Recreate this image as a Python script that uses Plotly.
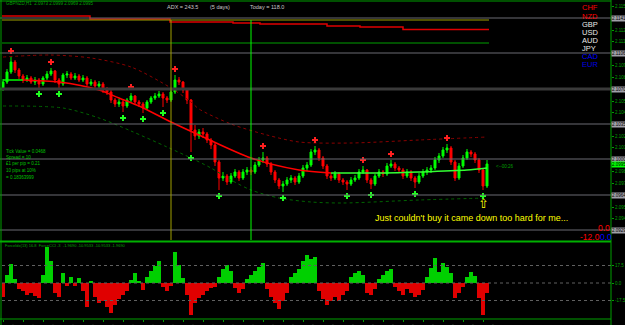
import plotly.graph_objects as go

# ---------------- data ----------------
bar_idx = list(range(122))
opens = [
    2.1071, 2.1077, 2.1087, 2.1097, 2.1089, 2.1083, 2.1079, 2.1081, 2.1077, 2.1079,
    2.1075, 2.1081, 2.1085, 2.1088, 2.1079, 2.1075, 2.1084, 2.1085, 2.1081, 2.1083,
    2.1079, 2.1081, 2.1075, 2.1077, 2.1073, 2.1075, 2.1069, 2.1067, 2.1059, 2.1055,
    2.1057, 2.1053, 2.1059, 2.1063, 2.1057, 2.1055, 2.1051, 2.1057, 2.1061, 2.1063,
    2.1065, 2.1061, 2.1059, 2.1067, 2.1079, 2.1077, 2.1069, 2.1059, 2.1029, 2.1023,
    2.1027, 2.1025, 2.1019, 2.1014, 2.0997, 2.0981, 2.0983, 2.0977, 2.0983, 2.0987,
    2.0981, 2.0987, 2.0989, 2.0987, 2.0994, 2.0999, 2.1001, 2.0995, 2.0987, 2.0979,
    2.0973, 2.0975, 2.0979, 2.0981, 2.0977, 2.0983, 2.0991, 2.0994, 2.1007, 2.1009,
    2.1001, 2.0993, 2.0983, 2.0981, 2.0985, 2.0979, 2.0977, 2.0975, 2.0979, 2.0981,
    2.0987, 2.0989, 2.0979, 2.0975, 2.0983, 2.0987, 2.0985, 2.0993, 2.0995, 2.0991,
    2.0989, 2.0983, 2.0987, 2.0981, 2.0977, 2.0983, 2.0987, 2.0989, 2.0991, 2.0999,
    2.1003, 2.1009, 2.1011, 2.0997, 2.0981, 2.0993, 2.1001, 2.1007, 2.1005, 2.0999,
    2.0989, 2.0973]
highs = [
    2.1080, 2.1090, 2.1102, 2.1099, 2.1091, 2.1085, 2.1084, 2.1083, 2.1082, 2.1081,
    2.1083, 2.1088, 2.1091, 2.1089, 2.1081, 2.1086, 2.1088, 2.1087, 2.1086, 2.1085,
    2.1084, 2.1083, 2.1080, 2.1079, 2.1078, 2.1077, 2.1072, 2.1069, 2.1061, 2.1060,
    2.1059, 2.1061, 2.1066, 2.1064, 2.1059, 2.1057, 2.1059, 2.1063, 2.1066, 2.1068,
    2.1067, 2.1063, 2.1070, 2.1084, 2.1082, 2.1078, 2.1070, 2.1060, 2.1034, 2.1030,
    2.1031, 2.1027, 2.1021, 2.1016, 2.0999, 2.0987, 2.0985, 2.0986, 2.0990, 2.0989,
    2.0990, 2.0992, 2.0992, 2.0997, 2.1002, 2.1007, 2.1003, 2.0997, 2.0989, 2.0981,
    2.0978, 2.0982, 2.0984, 2.0983, 2.0986, 2.0994, 2.0997, 2.1010, 2.1013, 2.1011,
    2.1003, 2.0995, 2.0986, 2.0988, 2.0987, 2.0981, 2.0979, 2.0982, 2.0984, 2.0990,
    2.0993, 2.0990, 2.0981, 2.0985, 2.0990, 2.0989, 2.0996, 2.0999, 2.0997, 2.0993,
    2.0991, 2.0990, 2.0989, 2.0983, 2.0986, 2.0990, 2.0992, 2.0994, 2.1002, 2.1006,
    2.1012, 2.1015, 2.1013, 2.0999, 2.0996, 2.1004, 2.1010, 2.1009, 2.1007, 2.1001,
    2.0991, 2.0999]
lows = [
    2.1068, 2.1075, 2.1085, 2.1086, 2.1080, 2.1076, 2.1077, 2.1075, 2.1074, 2.1071,
    2.1073, 2.1079, 2.1083, 2.1076, 2.1071, 2.1073, 2.1081, 2.1079, 2.1079, 2.1077,
    2.1077, 2.1073, 2.1073, 2.1070, 2.1071, 2.1066, 2.1064, 2.1056, 2.1052, 2.1052,
    2.1047, 2.1051, 2.1057, 2.1055, 2.1052, 2.1046, 2.1049, 2.1055, 2.1059, 2.1061,
    2.1052, 2.1056, 2.1057, 2.1065, 2.1074, 2.1066, 2.1055, 2.1007, 2.1019, 2.1020,
    2.1021, 2.1016, 2.1010, 2.0993, 2.0969, 2.0978, 2.0974, 2.0975, 2.0981, 2.0978,
    2.0979, 2.0984, 2.0984, 2.0985, 2.0992, 2.0996, 2.0992, 2.0984, 2.0976, 2.0970,
    2.0967, 2.0973, 2.0976, 2.0974, 2.0975, 2.0981, 2.0988, 2.0992, 2.1004, 2.0998,
    2.0990, 2.0980, 2.0978, 2.0979, 2.0976, 2.0974, 2.0969, 2.0973, 2.0977, 2.0979,
    2.0985, 2.0976, 2.0970, 2.0973, 2.0981, 2.0982, 2.0983, 2.0991, 2.0988, 2.0986,
    2.0980, 2.0981, 2.0978, 2.0971, 2.0975, 2.0981, 2.0984, 2.0986, 2.0989, 2.0996,
    2.1001, 2.1006, 2.0994, 2.0978, 2.0979, 2.0991, 2.0999, 2.1002, 2.0996, 2.0986,
    2.0969, 2.0971]
closes = [
    2.1077, 2.1087, 2.1097, 2.1089, 2.1083, 2.1079, 2.1081, 2.1077, 2.1079, 2.1075,
    2.1081, 2.1085, 2.1088, 2.1079, 2.1075, 2.1084, 2.1085, 2.1081, 2.1083, 2.1079,
    2.1081, 2.1075, 2.1077, 2.1073, 2.1075, 2.1069, 2.1067, 2.1059, 2.1055, 2.1057,
    2.1053, 2.1059, 2.1063, 2.1057, 2.1055, 2.1051, 2.1057, 2.1061, 2.1063, 2.1065,
    2.1061, 2.1059, 2.1067, 2.1079, 2.1077, 2.1069, 2.1059, 2.1029, 2.1023, 2.1027,
    2.1025, 2.1019, 2.1014, 2.0997, 2.0981, 2.0983, 2.0977, 2.0983, 2.0987, 2.0981,
    2.0987, 2.0989, 2.0987, 2.0994, 2.0999, 2.1001, 2.0995, 2.0987, 2.0979, 2.0973,
    2.0975, 2.0979, 2.0981, 2.0977, 2.0983, 2.0991, 2.0994, 2.1007, 2.1009, 2.1001,
    2.0993, 2.0983, 2.0981, 2.0985, 2.0979, 2.0977, 2.0975, 2.0979, 2.0981, 2.0987,
    2.0989, 2.0979, 2.0975, 2.0983, 2.0987, 2.0985, 2.0993, 2.0995, 2.0991, 2.0989,
    2.0983, 2.0987, 2.0981, 2.0977, 2.0983, 2.0987, 2.0989, 2.0991, 2.0999, 2.1003,
    2.1009, 2.1011, 2.0997, 2.0981, 2.0993, 2.1001, 2.1007, 2.1005, 2.0999, 2.0989,
    2.0973, 2.0995]

# force-index style histogram (lower window)
force_hist = [
    -14, 8, 19, 4, -6, -8, -12, -10, -13, -15,
    8, 36, 22, -10, -14, 10, -3, 6, -3, 5,
    -8, -24, 2, -14, -20, -18, -24, -30, -22, -16,
    -12, -8, 3, 10, 2, -7, 6, 12, 17, 22,
    -4, -8, -3, 31, 18, 5, -12, -32, -20, -15,
    -12, -8, -5, -4, 6, 14, 18, 12, -5, -10,
    -6, 4, 8, 12, 16, 20, -6, -14, -20, -26,
    -18, -10, 6, 10, 14, 22, 28, 24, 26, -8,
    -16, -22, -18, -14, -18, -12, -8, 6, 10, 12,
    8, -10, -12, -6, 4, 8, 12, 14, -4, -8,
    -12, -6, -10, -14, -12, -7, 6, 15, 25, 11,
    20, 16, 10, -15, -10, -4, 6, 11, 7, -15,
    -32, -10]
force_levels = [-17.5, 0.0, 17.5]

# moving average (solid) and envelope bands (dotted)
ma_up_start_x = [0, 5]
ma_up_start_y = [2.1079, 2.1079]
ma_down_x = [5, 14, 24, 29, 34, 42, 49, 62, 74, 82]
ma_down_y = [2.1079, 2.1077, 2.1069, 2.1061, 2.1053, 2.1037, 2.1024, 2.1001, 2.0989, 2.0986]
ma_flat_x = [82, 95, 104, 116, 121]
ma_flat_y = [2.0986, 2.0986, 2.0987, 2.0989, 2.0991]
band_hi_x = [0, 12, 22, 32, 42, 47, 49, 57, 66, 74, 87, 104, 121]
band_hi_y = [2.1102, 2.1104, 2.1101, 2.1092, 2.1071, 2.1057, 2.1050, 2.1035, 2.1024, 2.1017, 2.1016, 2.1019, 2.1022]
band_lo_x = [0, 15, 24, 32, 41, 47, 52, 57, 62, 69, 77, 85, 104, 121]
band_lo_y = [2.1053, 2.1051, 2.1041, 2.1028, 2.1012, 2.1001, 2.0991, 2.0979, 2.0969, 2.0961, 2.0957, 2.0956, 2.0959, 2.0961]

# fractal arrows
fractal_up_bars = [2, 12, 32, 43, 65, 78, 90, 97, 111]
fractal_dn_bars = [9, 14, 30, 35, 40, 47, 54, 70, 86, 92, 103, 120]

# horizontal levels
price_levels = [2.1141, 2.1106, 2.1070, 2.1035, 2.1000, 2.0964, 2.0929]
adr_line_olive = 2.1139
adr_line_green = 2.1116
red_step_x = [-0.75, 21.75, 41.75, 57.5, 64.25, 81, 89.25, 100, 121.5]
red_step_y = [2.1143, 2.1140, 2.1137, 2.1136, 2.1135, 2.1133, 2.1132, 2.11295, 2.11295]
event_bars = [42, 62]

price_ticks = [2.1153, 2.1129, 2.1118, 2.1094, 2.1082, 2.1058, 2.1047, 2.1023, 2.1012,
               2.0988, 2.0976, 2.0952, 2.0941, 2.0917]
date_tick_bars = list(range(0, 121, 5))
date_labels = ["15 Aug 2013", "15 Aug 07:00", "15 Aug 12:00", "15 Aug 17:00", "15 Aug 22:00",
               "16 Aug 03:00", "16 Aug 08:00", "16 Aug 13:00", "16 Aug 18:00", "18 Aug 23:00",
               "19 Aug 04:00", "19 Aug 09:00", "19 Aug 14:00", "19 Aug 19:00", "20 Aug 00:00",
               "20 Aug 05:00", "20 Aug 10:00", "20 Aug 15:00", "20 Aug 20:00", "21 Aug 01:00",
               "21 Aug 06:00", "21 Aug 11:00", "21 Aug 16:00", "21 Aug 21:00", "22 Aug 02:00"]

currencies = ["CHF", "NZD", "GBP", "USD", "AUD", "JPY", "CAD", "EUR"]
currency_colors = ["#ff0000", "#ff0000", "#e8e8e8", "#e8e8e8", "#e8e8e8", "#e8e8e8", "#0000ff", "#0000e0"]
info_lines = ["Tick Value = 0.0468", "Spread = 10", "£1 per pip = 0.21", "10 pips at 10%", "= 0.18363999"]

# ---------------- layout helpers (pixel -> paper) ----------------
L, R, T, B = 2, 611, 2, 319
def pxx(x):
    return (x - L) / (R - L)
def pyy(y):
    return (B - y) / (B - T)

x_range = [-0.25, -0.25 + (R - L) / 4.0]
y_range = [2.0919, 2.1157]

GREEN = "#00a000"
fig = go.Figure()

fig.add_trace(go.Candlestick(
    x=bar_idx, open=opens, high=highs, low=lows, close=closes,
    increasing=dict(line=dict(color="#00ff00", width=1), fillcolor="#00ff00"),
    decreasing=dict(line=dict(color="#ff0000", width=1), fillcolor="#ff0000"),
    whiskerwidth=0, xaxis="x", yaxis="y", hoverinfo="skip", showlegend=False))

for xs, ys, col, dash, w in [
        (band_hi_x, band_hi_y, "#8b0000", "dot", 1),
        (band_lo_x, band_lo_y, "#006400", "dot", 1),
        (ma_up_start_x, ma_up_start_y, "#00ff00", "solid", 1.5),
        (ma_down_x, ma_down_y, "#ff0000", "solid", 1.5),
        (ma_flat_x, ma_flat_y, "#33ff33", "solid", 1.5)]:
    fig.add_trace(go.Scatter(x=xs, y=ys, mode="lines", line=dict(color=col, width=w, dash=dash,
                                                                  shape="spline", smoothing=0.8),
                             xaxis="x", yaxis="y", hoverinfo="skip", showlegend=False))

fig.add_trace(go.Scatter(x=red_step_x, y=red_step_y, mode="lines",
                         line=dict(color="#e00000", width=1.5, shape="hv"),
                         xaxis="x", yaxis="y", hoverinfo="skip", showlegend=False))

fig.add_trace(go.Scatter(
    x=fractal_up_bars, y=[highs[i] + 0.0006 for i in fractal_up_bars], mode="markers",
    marker=dict(symbol="cross", size=5, color="#ff2020", line=dict(width=0)),
    xaxis="x", yaxis="y", hoverinfo="skip", showlegend=False))
fig.add_trace(go.Scatter(
    x=fractal_dn_bars, y=[lows[i] - 0.0006 for i in fractal_dn_bars], mode="markers",
    marker=dict(symbol="cross", size=5, color="#20ff20", line=dict(width=0)),
    xaxis="x", yaxis="y", hoverinfo="skip", showlegend=False))

fig.add_trace(go.Bar(
    x=bar_idx, y=force_hist, width=0.9,
    marker=dict(color=["#00d000" if v >= 0 else "#e00000" for v in force_hist], line=dict(width=0)),
    xaxis="x2", yaxis="y2", hoverinfo="skip", showlegend=False))

shapes = []
for k, lv in enumerate(price_levels):
    thick = (k == 2)
    shapes.append(dict(type="line", xref="paper", yref="y", x0=pxx(0), x1=1, y0=lv, y1=lv,
                       line=dict(color="#3a3a3a" if thick else "#6a6a72", width=3 if thick else 1)))
for val, col in [(adr_line_olive, "#a0a000"), (adr_line_green, "#00a000")]:
    shapes.append(dict(type="line", xref="x", yref="y", x0=red_step_x[0], x1=red_step_x[-1],
                       y0=val, y1=val, line=dict(color=col, width=1)))
for b, col in zip(event_bars, ["#a0a000", "#00ff00"]):
    shapes.append(dict(type="line", xref="x", yref="y", x0=b, x1=b, y0=y_range[0], y1=adr_line_olive,
                       line=dict(color=col, width=1)))
for lv in force_levels:
    shapes.append(dict(type="line", xref="paper", yref="y2", x0=0, x1=1, y0=lv, y1=lv,
                       line=dict(color="#606060", width=1, dash="dot")))
# frame lines
shapes += [
    dict(type="line", xref="paper", yref="paper", x0=pxx(0), x1=1, y0=pyy(1), y1=pyy(1),
         line=dict(color=GREEN, width=1)),
    dict(type="line", xref="paper", yref="paper", x0=pxx(1), x1=pxx(1), y0=pyy(325), y1=pyy(0),
         line=dict(color=GREEN, width=1)),
    dict(type="line", xref="paper", yref="paper", x0=1, x1=1, y0=pyy(325), y1=pyy(0),
         line=dict(color=GREEN, width=1)),
    dict(type="line", xref="paper", yref="paper", x0=pxx(0), x1=1, y0=pyy(241.5), y1=pyy(241.5),
         line=dict(color="#00b000", width=2)),
    dict(type="line", xref="paper", yref="paper", x0=pxx(0), x1=1, y0=pyy(319), y1=pyy(319),
         line=dict(color=GREEN, width=1)),
]

ann = []
def text(x, y, s, size, color, family="Liberation Sans", anchor="left"):
    ann.append(dict(xref="paper", yref="paper", x=pxx(x), y=pyy(y), text=s, showarrow=False,
                    xanchor=anchor, yanchor="middle", font=dict(size=size, color=color, family=family)))

text(4, 4, "GBPNZD,H1  2.0973 2.0999 2.0969 2.0995", 4.5, GREEN)
text(165, 7, "ADX = 243.5", 5.5, "#c8c8c8")
text(208, 7, "(5 days)", 5.5, "#c8c8c8")
text(248, 7, "Today = 118.0", 5.5, "#c8c8c8")
for k, (c, col) in enumerate(zip(currencies, currency_colors)):
    text(580, 8 + 8.1 * k, c, 7.5, col)
for k, s in enumerate(info_lines):
    text(4, 151 + 6.5 * k, s, 4.5, "#00c000")
text(373, 218, "Just couldn't buy it came down too hard for me...", 9, "#ffff00")
text(596, 228, "0.0", 8.5, "#ff0000")
text(578, 237, "-12.0", 8.5, "#ff0000")
text(598, 237, "0.0", 8.5, "#0000ff")
text(494, 166, "&lt;--00:26", 4.5, GREEN)
text(3, 245, "ForceIdx(13) 16.8  ForceCCI -3  -1.9690 -10.9533 -10.9533 -1.9690", 4, GREEN)

ann.append(dict(xref="x", yref="y", x=fractal_dn_bars[-1], y=lows[fractal_dn_bars[-1]] - 0.0013,
                text="⇧", showarrow=False, font=dict(size=13, color="#ffff00", family="DejaVu Sans"),
                xanchor="center", yanchor="middle"))
for lv in price_levels:
    ann.append(dict(xref="paper", yref="y", x=1, y=lv, text=f"{lv:.4f}", showarrow=False,
                    xanchor="left", yanchor="middle", bgcolor="#a0a0a8", borderpad=0,
                    font=dict(size=4.5, color="#000000", family="Liberation Sans")))
ann.append(dict(xref="paper", yref="y", x=1, y=closes[-1], text=f"{closes[-1]:.4f}", showarrow=False,
                xanchor="left", yanchor="middle", bgcolor="#00ff00", borderpad=0,
                font=dict(size=4.5, color="#000000", family="Liberation Sans")))

fig.update_layout(
    template="none", width=625, height=325, autosize=False,
    margin=dict(l=L, r=625 - R, t=T, b=325 - B),
    paper_bgcolor="#000000", plot_bgcolor="#000000", showlegend=False, bargap=0,
    xaxis=dict(domain=[0, 1], range=x_range, anchor="y", showgrid=False, zeroline=False,
               showticklabels=False, ticks="", showline=False, rangeslider=dict(visible=False),
               automargin=False),
    yaxis=dict(domain=[pyy(240), 1], range=y_range, anchor="x", side="right", showgrid=False,
               zeroline=False, tickvals=price_ticks, ticktext=[f"{v:.4f}" for v in price_ticks],
               tickfont=dict(size=4.5, color=GREEN, family="Liberation Sans"), ticks="outside",
               ticklen=2, tickcolor=GREEN, showline=False, automargin=False),
    xaxis2=dict(domain=[0, 1], range=x_range, anchor="y2", showgrid=False, zeroline=False,
                tickvals=date_tick_bars, ticktext=date_labels, ticks="outside", ticklen=2,
                tickcolor=GREEN, tickfont=dict(size=4, color="#70a070", family="Liberation Sans"),
                ticklabelshift=9, ticklabelstandoff=0, showline=False, automargin=False),
    yaxis2=dict(domain=[0, pyy(243)], range=[-36, 40], anchor="x2", side="right", showgrid=False,
                zeroline=False, tickvals=force_levels, ticktext=["-17.5", "0.0", "17.5"],
                tickfont=dict(size=4.5, color=GREEN, family="Liberation Sans"), ticks="outside",
                ticklen=2, tickcolor=GREEN, showline=False, automargin=False),
    shapes=shapes, annotations=ann,
)

fig.write_html("out.html")
